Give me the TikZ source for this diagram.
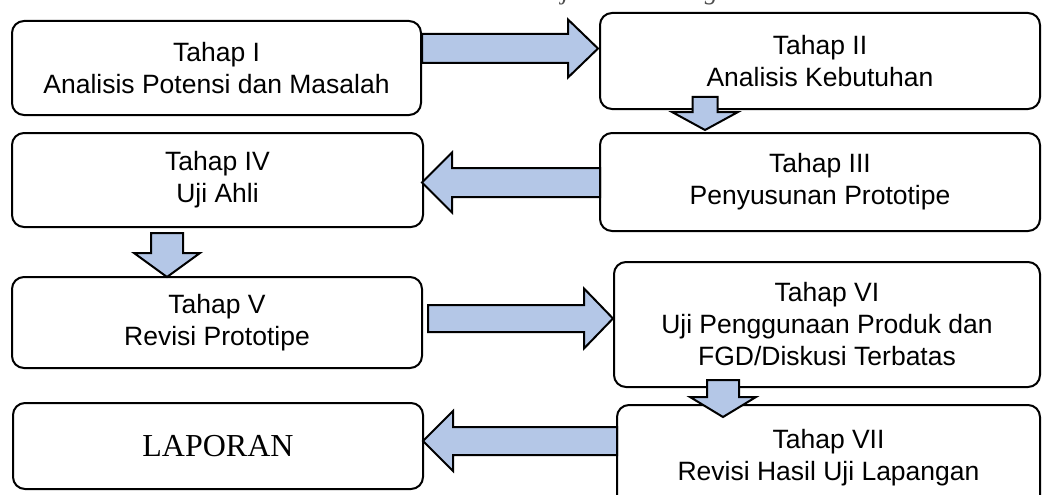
\documentclass[tikz,border=0pt]{standalone}
\usepackage{fontspec}
\setmainfont{Liberation Serif}
\setsansfont{Liberation Sans}
\definecolor{arrowfill}{RGB}{180,199,231}
\tikzset{
  box/.style={draw=black, line width=2pt, rounded corners=12pt, fill=white,
    align=center, inner sep=0pt, font=\sffamily\fontsize{26.5}{32}\selectfont},
  barrow/.style={draw=black, line width=2pt, fill=arrowfill, line join=miter},
}
% box: name, x1, x2, y1, y2, text
\newcommand\mkbox[6]{\node[box, minimum width={#3-#2}, minimum height={#5-#4}] (#1) at ({(#2+#3)/2},{(#4+#5)/2}) {#6};}
% horizontal block arrow: tail x, head base x, tip x, centre y, shaft half, head half
\newcommand\harrow[6]{\draw[barrow] (#1,#4-#5) -- (#2,#4-#5) -- (#2,#4-#6) -- (#3,#4) -- (#2,#4+#6) -- (#2,#4+#5) -- (#1,#4+#5) -- cycle;}
% vertical block arrow: tail y, head base y, tip y, centre x, shaft half, head half
\newcommand\varrow[6]{\draw[barrow] (#4-#5,#1) -- (#4-#5,#2) -- (#4-#6,#2) -- (#4,#3) -- (#4+#6,#2) -- (#4+#5,#2) -- (#4+#5,#1) -- cycle;}
\begin{document}
\begin{tikzpicture}[x=1pt,y=-1pt]
\clip (0,0) rectangle (1042,495);
\fill[white] (0,0) rectangle (1042,495);
\node[anchor=base west, inner sep=0pt, text=black!70, font=\itshape\fontsize{26}{30}\selectfont] (toptext) at (548,-0.5) {i jasa dan sebagai acuan};

\mkbox{b1}{12}{421}{21}{115}{Tahap I\\Analisis Potensi dan Masalah}
\mkbox{b2}{600}{1040}{13}{109}{Tahap II\\Analisis Kebutuhan}
\mkbox{b3}{600}{1040}{133}{231}{Tahap III\\Penyusunan Prototipe}
\mkbox{b4}{12}{423}{133}{227}{Tahap IV\\Uji Ahli}
\mkbox{b5}{12}{422}{277}{368}{Tahap V\\Revisi Prototipe}
\mkbox{b6}{614}{1040}{262}{387}{Tahap VI\\Uji Penggunaan Produk dan\\FGD/Diskusi Terbatas}
\mkbox{b7}{617}{1040}{405}{510}{Tahap VII\\Revisi Hasil Uji Lapangan}
\node[box, font=\rmfamily\fontsize{32}{36}\selectfont, minimum width=410, minimum height=86] (b8) at (218,446) {LAPORAN};

\harrow{422}{568}{598}{48.5}{14.5}{29}
\varrow{97}{112}{130}{705}{12.5}{33}
\harrow{600}{452}{422}{182.5}{14.5}{30}
\varrow{233}{253}{277}{167}{16}{33}
\harrow{428}{584}{613}{318.5}{13.5}{30}
\varrow{380}{397}{417}{723}{16}{33}
\harrow{617}{453}{423}{441}{14}{30}
\end{tikzpicture}
\end{document}
